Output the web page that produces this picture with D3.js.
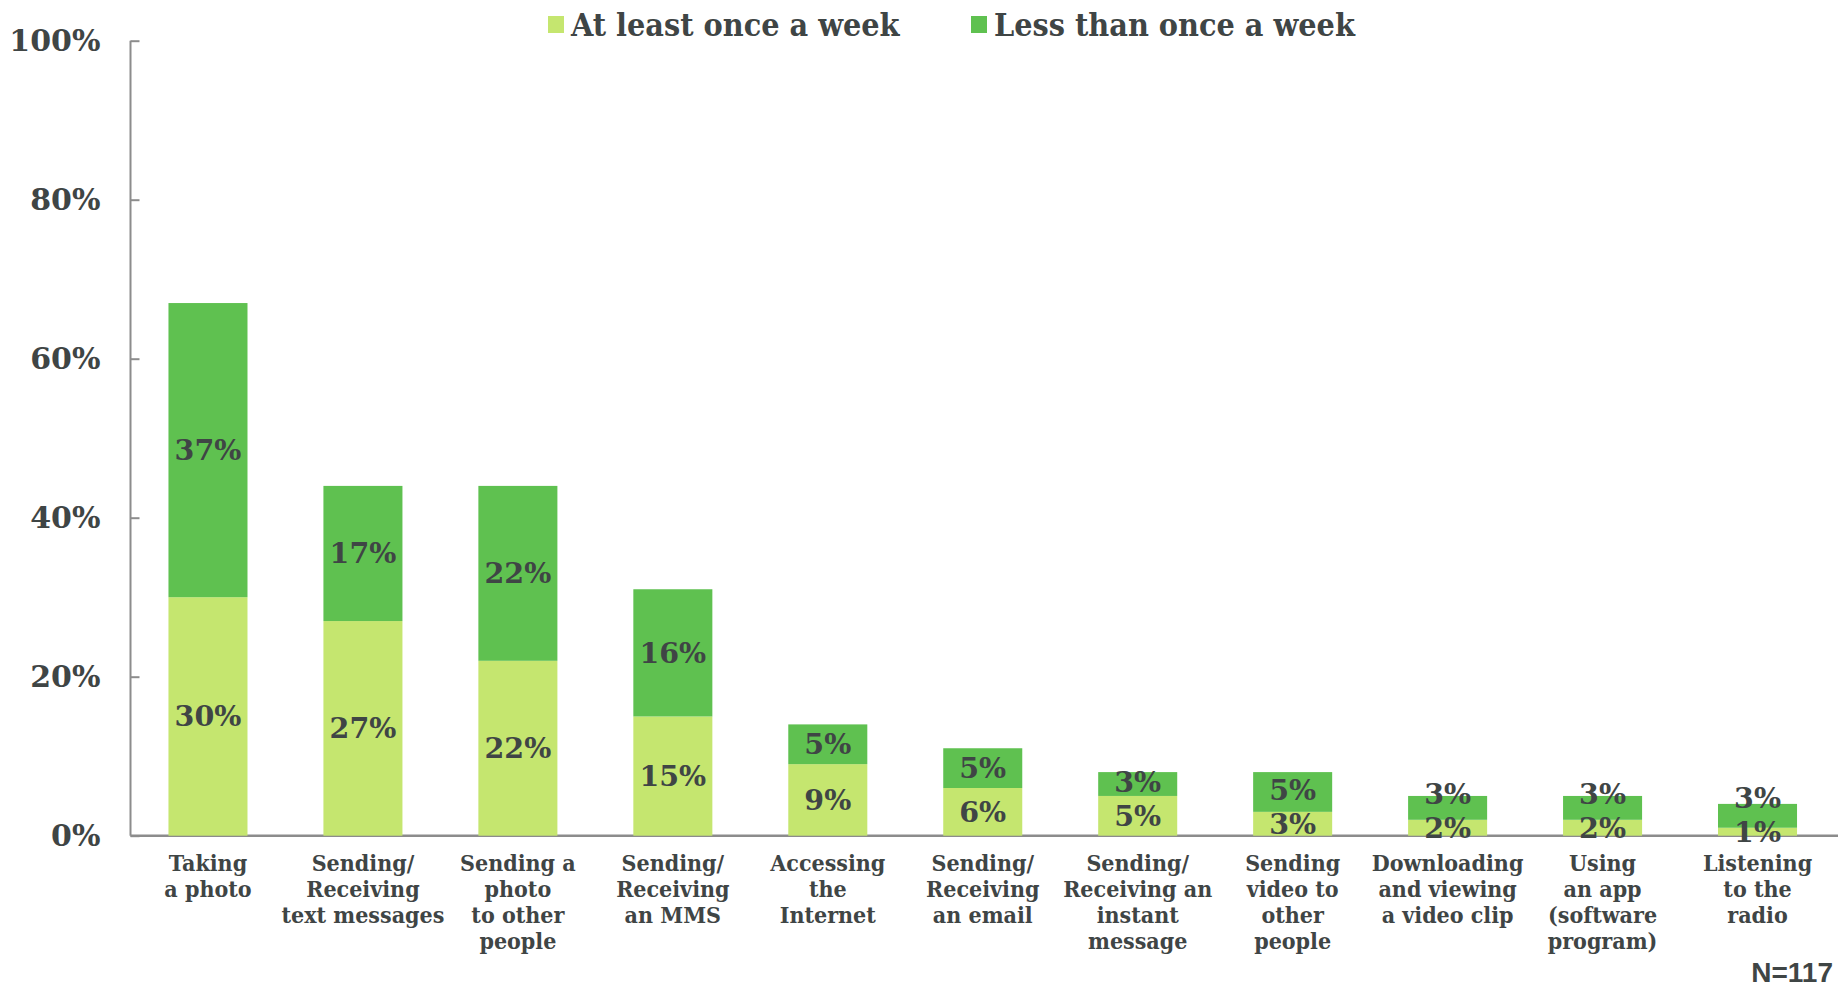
<!DOCTYPE html>
<html>
<head>
<meta charset="utf-8">
<script src="https://cdn.jsdelivr.net/npm/d3@7/dist/d3.min.js"></script>
<style>
  html, body { margin: 0; padding: 0; background: #ffffff; }
  svg { display: block; }
  .cond { font-family: "DejaVu Serif Condensed", "DejaVu Serif", serif; font-stretch: condensed; font-weight: bold; }
  .serif { font-family: "DejaVu Serif", serif; font-weight: bold; }
</style>
</head>
<body>
<svg id="chart" width="1843" height="987"></svg>
<script>
// Categories (each entry is the list of lines drawn under the bar)
const categories = [
  ["Taking", "a photo"],
  ["Sending/", "Receiving", "text messages"],
  ["Sending a", "photo", "to other", "people"],
  ["Sending/", "Receiving", "an MMS"],
  ["Accessing", "the", "Internet"],
  ["Sending/", "Receiving", "an email"],
  ["Sending/", "Receiving an", "instant", "message"],
  ["Sending", "video to", "other", "people"],
  ["Downloading", "and viewing", "a video clip"],
  ["Using", "an app", "(software", "program)"],
  ["Listening", "to the", "radio"]
];
// Share of respondents (%)
const atLeastWeekly = [30, 27, 22, 15, 9, 6, 5, 3, 2, 2, 1];
const lessThanWeekly = [37, 17, 22, 16, 5, 5, 3, 5, 3, 3, 3];
const seriesNames = ["At least once a week", "Less than once a week"];
const yTicks = [0, 20, 40, 60, 80, 100];
const sampleNote = "N=117";

(function () {
  const colors = ["#c5e66f", "#5fc150"];
  const textColor = "#3f4545";
  const axisColor = "#8c8c8c";
  const labelGap = 34; // minimum vertical distance between stacked value labels

  const svg = d3.select("#chart");
  const m = { left: 130.5, right: 1835, top: 40.7, bottom: 835.7 };

  const x = d3.scaleBand()
    .domain(d3.range(categories.length))
    .range([m.left, m.right])
    .paddingInner(0.49)
    .paddingOuter(0.245);

  const y = d3.scaleLinear().domain([0, 100]).range([m.bottom, m.top]);

  // Stack the two series
  const rows = categories.map((c, i) => ({ i, a: atLeastWeekly[i], b: lessThanWeekly[i] }));
  const stack = d3.stack().keys(["a", "b"])(rows);

  const g = svg.append("g");
  stack.forEach((layer, k) => {
    g.selectAll(null)
      .data(layer)
      .join("rect")
      .attr("x", d => x(d.data.i))
      .attr("width", x.bandwidth())
      .attr("y", d => y(d[1]))
      .attr("height", d => y(d[0]) - y(d[1]))
      .attr("fill", colors[k]);
  });

  // Y axis with short inward ticks
  const yAxis = d3.axisLeft(y)
    .tickValues(yTicks)
    .tickSize(0)
    .tickPadding(30)
    .tickFormat(d => d + "%");
  const ya = svg.append("g").attr("transform", `translate(${m.left},0)`).call(yAxis);
  ya.select(".domain").attr("stroke", axisColor).attr("stroke-width", 2)
    .attr("d", `M0,${m.top}V${m.bottom}`);
  ya.selectAll(".tick line").attr("stroke", axisColor).attr("stroke-width", 2)
    .attr("x1", 0).attr("x2", 9);
  ya.selectAll(".tick text")
    .attr("class", "serif")
    .attr("font-size", 30)
    .attr("fill", textColor)
    .attr("dy", "0.34em");

  // X axis baseline
  svg.append("line")
    .attr("x1", m.left).attr("x2", m.right + 3)
    .attr("y1", m.bottom).attr("y2", m.bottom)
    .attr("stroke", axisColor).attr("stroke-width", 2.5);

  // Value labels centred in each segment; the upper label is lifted
  // when the segments are too short to keep the two labels apart
  const mid = d => (y(d[0]) + y(d[1])) / 2;
  const labelY = (d, k) => {
    if (k === 0) return mid(d);
    const below = stack[0][d.data.i];
    return Math.min(mid(d), mid(below) - labelGap);
  };
  stack.forEach((layer, k) => {
    g.selectAll(null)
      .data(layer)
      .join("text")
      .attr("class", "serif")
      .attr("x", d => x(d.data.i) + x.bandwidth() / 2)
      .attr("y", d => labelY(d, k))
      .attr("text-anchor", "middle")
      .attr("dominant-baseline", "central")
      .attr("font-size", 28.5)
      .attr("fill", textColor)
      .text(d => (d[1] - d[0]) + "%");
  });
  g.raise();

  // Category labels
  const catG = svg.append("g");
  categories.forEach((lines, i) => {
    const cx = x(i) + x.bandwidth() / 2;
    const t = catG.append("text")
      .attr("class", "cond")
      .attr("text-anchor", "middle")
      .attr("font-size", 23)
      .attr("fill", textColor);
    lines.forEach((ln, j) => {
      t.append("tspan")
        .attr("x", cx)
        .attr("y", 871 + j * 26)
        .text(ln);
    });
  });

  // Legend
  const legendX = [548, 971];
  seriesNames.forEach((name, k) => {
    svg.append("rect")
      .attr("x", legendX[k]).attr("y", 16)
      .attr("width", 16).attr("height", 17)
      .attr("fill", colors[k]);
    svg.append("text")
      .attr("class", "cond")
      .attr("x", legendX[k] + 23)
      .attr("y", 36)
      .attr("font-size", 32)
      .attr("fill", textColor)
      .text(name);
  });

  // Sample size note
  svg.append("text")
    .attr("x", 1833).attr("y", 982)
    .attr("text-anchor", "end")
    .attr("font-family", "'Liberation Sans', Arial, sans-serif")
    .attr("font-weight", "bold")
    .attr("font-size", 28)
    .attr("fill", textColor)
    .text(sampleNote);
})();
</script>
</body>
</html>
